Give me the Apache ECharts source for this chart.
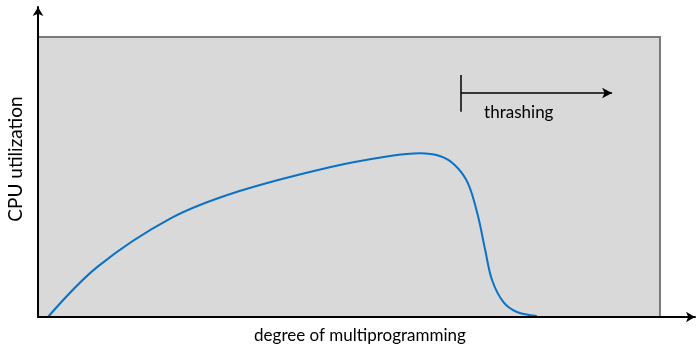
<!DOCTYPE html>
<html><head><meta charset="utf-8">
<script src="https://cdn.jsdelivr.net/npm/echarts@6/dist/echarts.min.js"></script>
<style>html,body{margin:0;padding:0;background:#fff}#c{width:700px;height:348px}</style>
</head><body><div id="c"></div>
<script>
// degree of multiprogramming (relative units, 0..100 = shaded box)
const xValues = [1.6, 9.6, 21.4, 32.15, 46.9, 56.6, 61.4, 64.6, 67.0, 69.1, 70.7, 71.9, 73.0, 74.8, 77.0, 80.2];
// CPU utilization (relative units)
const yValues = [0, 18.0, 35.3, 44.8, 53.5, 57.5, 58.5, 57.5, 54.3, 47.9, 36.4, 23.9, 13.2, 5.4, 1.8, 0.4];
const xAxisName = 'degree of multiprogramming';
const yAxisName = 'CPU utilization';
const annotationText = 'thrashing';
const thrashStartX = 68.0, thrashEndX = 92.3, thrashY = 80.0;
const thrashTickTop = 86.4, thrashTickBottom = 73.3;

const font = 'Lato, "Open Sans", sans-serif';
const chart = echarts.init(document.getElementById('c'));
chart.setOption({
  animation: false,
  grid: {left: 38, right: 5, top: 7, bottom: 31, containLabel: false, outerBoundsMode: 'none'},
  xAxis: {
    type: 'value', min: 0, max: 105.63, z: 5,
    axisLine: {show: true, lineStyle: {color: '#000', width: 2}, symbol: ['none', 'arrow'], symbolSize: [8, 9], symbolOffset: [0, 0]},
    axisTick: {show: false}, axisLabel: {show: false}, splitLine: {show: false},
    name: xAxisName, nameLocation: 'middle', nameGap: 10,
    nameTextStyle: {fontFamily: font, fontSize: 17, color: '#000', padding: [0, 13, 0, 0]}
  },
  yAxis: {
    type: 'value', min: 0, max: 110.71, z: 5,
    axisLine: {show: true, lineStyle: {color: '#000', width: 2}, symbol: ['none', 'arrow'], symbolSize: [8, 9]},
    axisTick: {show: false}, axisLabel: {show: false}, splitLine: {show: false},
    name: yAxisName, nameLocation: 'middle', nameGap: 13, nameRotate: 90,
    nameTextStyle: {fontFamily: font, fontSize: 19, color: '#000', padding: [0, 0, 0, 6]}
  },
  series: [{
    type: 'line',
    data: xValues.map((x, i) => [x, yValues[i]]),
    smooth: 0.35, showSymbol: false, z: 3,
    lineStyle: {color: '#0a72c6', width: 2},
    markArea: {
      silent: true,
      itemStyle: {color: '#d9d9d9', borderColor: '#7a7a7a', borderWidth: 2},
      data: [[{coord: [0, 0]}, {coord: [100, 100]}]]
    },
    markLine: {
      silent: true, symbol: ['none', 'arrow'], symbolSize: [8, 10],
      label: {show: false},
      lineStyle: {color: '#000', width: 1.5, type: 'solid'},
      data: [
        [{coord: [thrashStartX, thrashY]}, {coord: [thrashEndX, thrashY]}],
        [{coord: [thrashStartX, thrashTickTop], symbol: 'none'}, {coord: [thrashStartX, thrashTickBottom], symbol: 'none'}]
      ]
    },
    markPoint: {
      silent: true, symbol: 'circle', symbolSize: 0,
      label: {show: true, formatter: annotationText, fontFamily: font, fontSize: 17, color: '#000', position: 'inside'},
      data: [{coord: [77.3, 73.2]}]
    }
  }]
});
</script></body></html>
